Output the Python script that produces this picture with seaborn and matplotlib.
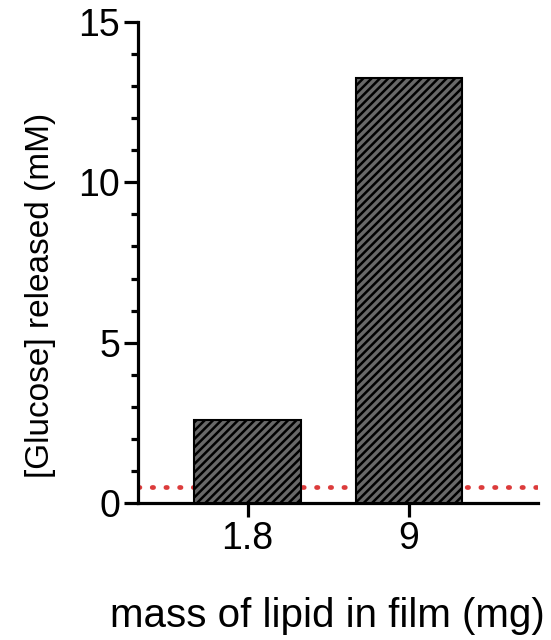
import matplotlib
matplotlib.use("Agg")
import matplotlib.pyplot as plt
import seaborn as sns
import pandas as pd
from matplotlib.ticker import MultipleLocator

categories = ["1.8", "9"]
glucose = [2.6, 13.25]
baseline = 0.5

sns.set_style("ticks")
plt.rcParams['font.family'] = ['Liberation Sans', 'DejaVu Sans']
plt.rcParams['hatch.linewidth'] = 1.8
plt.rcParams['hatch.color'] = '#1a1a1a'
plt.rcParams['text.color'] = 'black'
plt.rcParams['axes.labelcolor'] = 'black'
plt.rcParams['xtick.color'] = 'black'
plt.rcParams['ytick.color'] = 'black'
plt.rcParams['axes.edgecolor'] = 'black'

df = pd.DataFrame({"mass": categories, "glucose": glucose})

fig = plt.figure(figsize=(5.51, 6.40), dpi=100)
ax = fig.add_axes([0.2505, 0.214, 0.7255, 0.7516])
sns.barplot(data=df, x="mass", y="glucose", ax=ax, color="#686868",
            width=0.66, edgecolor="black", linewidth=1.5, saturation=1)
for p in ax.patches:
    p.set_hatch("////")
    p.set_zorder(3)

ax.axhline(baseline, color="#dc3b3b", linestyle=(0, (0.3, 2.6)), linewidth=3.4,
           dash_capstyle="round", zorder=2)

ax.set_xlim(-0.68, 1.80)
ax.set_ylim(0, 15)
ax.yaxis.set_major_locator(MultipleLocator(5))
ax.yaxis.set_minor_locator(MultipleLocator(1))
for s in ["top", "right"]:
    ax.spines[s].set_visible(False)
for s in ["left", "bottom"]:
    ax.spines[s].set_linewidth(2.3)
ax.tick_params(axis="both", which="major", length=10, width=2.3, labelsize=27, pad=3)
ax.tick_params(axis="y", which="minor", length=5, width=2.3)
ax.set_xlabel("mass of lipid in film (mg)", fontsize=29, labelpad=29)
ax.set_ylabel("[Glucose] released (mM)", fontsize=24, labelpad=16)
ax.xaxis.label.set_x(0.474)
ax.yaxis.label.set_y(0.432)

fig.savefig("out.png", dpi=100)
